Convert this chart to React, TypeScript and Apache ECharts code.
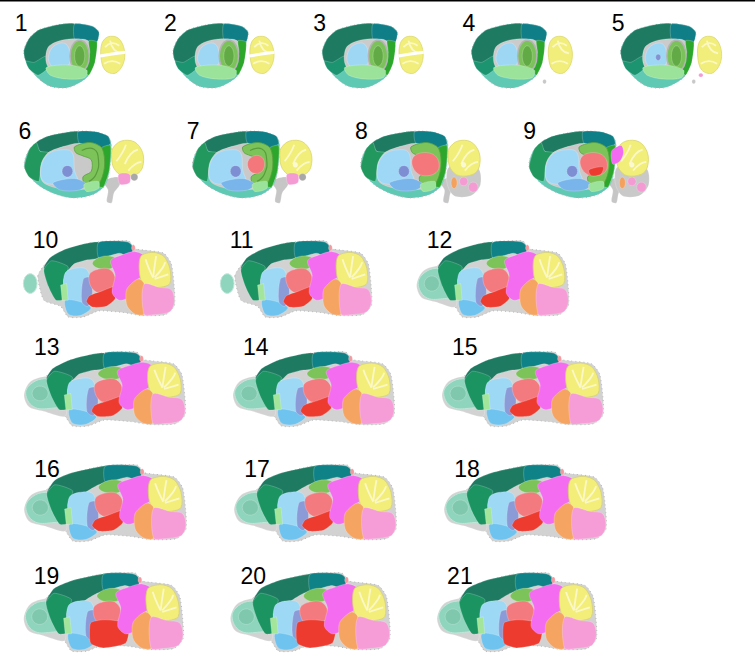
import React, { useEffect, useRef } from 'react';
import * as echarts from 'echarts';

// ------------------------------------------------------------
// Data: section numbers, how they are laid out in rows, and
// which atlas plate style (lateral -> medial) each one uses
// ------------------------------------------------------------
const sectionNumbers = [1, 2, 3, 4, 5, 6, 7, 8, 9, 10, 11, 12, 13, 14, 15, 16, 17, 18, 19, 20, 21];
const sectionsPerRow = [5, 4, 3, 3, 3, 3];
const sectionKind = [
  'lateral', 'lateral', 'lateral', 'lateral', 'lateral',
  'intermediate', 'intermediate', 'intermediate', 'intermediate',
  'medial', 'medial', 'medial', 'medial', 'medial', 'medial',
  'medial', 'medial', 'medial', 'medial', 'medial', 'medial',
];

// row placement (layout only)
const ROW_LAYOUT = [
  { top: 24, height: 64, left: -7, width: 753, labelDy: -12.5 },
  { top: 131, height: 72, left: -7, width: 680, labelDy: -11.5 },
  { top: 241, height: 76, left: -2, width: 593, labelDy: -12.5 },
  { top: 352, height: 74, left: 0, width: 627, labelDy: -17 },
  { top: 465, height: 76, left: 0, width: 630, labelDy: -7.5 },
  { top: 573, height: 78, left: -2, width: 622, labelDy: -8.5 },
];

// ------------------------------------------------------------
// Glyph templates (unit box: x 0..1 anterior->posterior, y 0..1 top->bottom)
// ------------------------------------------------------------
type Region = {
  fill?: string;
  pts: number[][];
  smooth?: number;
  stroke?: string;
  lw?: number;
  dash?: boolean;
  line?: boolean;
  min?: number;
  max?: number;
};

const ell = (cx: number, cy: number, rx: number, ry: number, n = 18) =>
  Array.from({ length: n }, (_, i) => {
    const a = (i / n) * Math.PI * 2;
    return [cx + rx * Math.cos(a), cy + ry * Math.sin(a)];
  });

const FOLIA = '#fbf8c8';

const LATERAL: Region[] = [
  { fill: '#5fc9b4', pts: [[0, 0.42], [0.05, 0.23], [0.15, 0.09], [0.34, 0.01], [0.52, 0], [0.68, 0.04], [0.74, 0.13], [0.72, 0.28], [0.69, 0.61], [0.63, 0.82], [0.52, 0.94], [0.41, 1.0], [0.25, 0.97], [0.11, 0.8], [0.025, 0.59]], smooth: 0.3, stroke: '#b8b8b8', lw: 1, dash: true },
  { fill: '#1e7b62', pts: [[0, 0.42], [0.05, 0.23], [0.15, 0.09], [0.34, 0.01], [0.5, 0], [0.5, 0.24], [0.38, 0.26], [0.28, 0.34], [0.22, 0.5], [0.1, 0.62], [0.02, 0.58]], smooth: 0.2 },
  { fill: '#1c9470', pts: [[0.02, 0.58], [0.1, 0.6], [0.22, 0.5], [0.24, 0.68], [0.14, 0.8], [0.05, 0.7]], smooth: 0.2 },
  { fill: '#0f7e86', pts: [[0.5, 0], [0.68, 0.04], [0.74, 0.13], [0.72, 0.28], [0.62, 0.26], [0.5, 0.24]], smooth: 0.2 },
  { fill: '#cbcbcb', pts: [[0.24, 0.36], [0.38, 0.25], [0.6, 0.24], [0.66, 0.32], [0.64, 0.7], [0.5, 0.78], [0.3, 0.78], [0.22, 0.6]], smooth: 0.3 },
  { fill: '#9ed7f4', pts: [[0.25, 0.46], [0.3, 0.34], [0.4, 0.3], [0.45, 0.42], [0.44, 0.64], [0.32, 0.7], [0.25, 0.6]], smooth: 0.4 },
  { fill: '#8193d3', pts: ell(0.37, 0.52, 0.025, 0.05), min: 5 },
  { fill: '#2ca72c', pts: [[0.64, 0.26], [0.72, 0.28], [0.7, 0.6], [0.64, 0.8], [0.6, 0.72], [0.65, 0.45]], smooth: 0.2 },
  { fill: '#7cc25a', pts: ell(0.55, 0.5, 0.095, 0.25), stroke: '#b4b4b4', lw: 1.5 },
  { fill: '#62aa45', pts: ell(0.55, 0.5, 0.05, 0.16) },
  { fill: '#9be39b', pts: [[0.22, 0.68], [0.44, 0.64], [0.62, 0.72], [0.6, 0.84], [0.42, 0.86], [0.26, 0.8]], smooth: 0.3 },
  { fill: '#f2ee7c', pts: [[0.77, 0.3], [0.83, 0.2], [0.93, 0.22], [0.99, 0.4], [0.98, 0.62], [0.9, 0.77], [0.8, 0.72], [0.76, 0.52]], smooth: 0.35, stroke: '#dcd86e', lw: 0.8 },
  { line: true, stroke: FOLIA, lw: 1.8, pts: [[0.8, 0.36], [0.87, 0.3], [0.94, 0.34]] },
  { line: true, stroke: FOLIA, lw: 1.8, pts: [[0.85, 0.26], [0.89, 0.4], [0.96, 0.46]] },
  { line: true, stroke: FOLIA, lw: 1.8, pts: [[0.79, 0.62], [0.87, 0.58], [0.95, 0.62]] },
  { line: true, stroke: '#ffffff', lw: 3, pts: [[0.75, 0.5], [0.87, 0.47], [1.0, 0.44]], max: 3 },
  { fill: '#c8c8c8', pts: ell(0.72, 0.9, 0.018, 0.035), min: 4 },
  { fill: '#f39bd4', pts: ell(0.79, 0.8, 0.022, 0.03), min: 5 },
];

const INTERMEDIATE: Region[] = [
  { fill: '#c6c6c6', pts: [[0.66, 0.7], [0.78, 0.64], [0.8, 0.74], [0.75, 0.86], [0.73, 1.0], [0.69, 0.98], [0.7, 0.82]], smooth: 0.3 },
  { fill: '#c9c9c9', pts: [[0.74, 0.5], [0.98, 0.52], [1.0, 0.75], [0.92, 0.9], [0.78, 0.9], [0.72, 0.72]], smooth: 0.3, min: 8 },
  { fill: '#5fc9b4', pts: [[0, 0.5], [0.04, 0.26], [0.16, 0.1], [0.35, 0.02], [0.5, 0], [0.64, 0.03], [0.72, 0.12], [0.72, 0.45], [0.68, 0.74], [0.58, 0.88], [0.42, 0.93], [0.25, 0.87], [0.1, 0.73]], smooth: 0.3, stroke: '#b8b8b8', lw: 1, dash: true },
  { fill: '#1e7b62', pts: [[0.1, 0.16], [0.2, 0.07], [0.35, 0.02], [0.45, 0.01], [0.46, 0.17], [0.32, 0.22], [0.2, 0.3], [0.13, 0.28]], smooth: 0.2 },
  { fill: '#22985f', pts: [[0, 0.5], [0.04, 0.26], [0.1, 0.16], [0.13, 0.28], [0.2, 0.3], [0.14, 0.48], [0.12, 0.7], [0.04, 0.64]], smooth: 0.2 },
  { fill: '#0f7f87', pts: [[0.45, 0.01], [0.6, 0.01], [0.7, 0.07], [0.72, 0.18], [0.64, 0.24], [0.46, 0.17]], smooth: 0.2 },
  { fill: '#c9c9c9', pts: [[0.14, 0.46], [0.2, 0.3], [0.32, 0.22], [0.46, 0.17], [0.64, 0.24], [0.7, 0.3], [0.68, 0.7], [0.56, 0.8], [0.3, 0.8], [0.15, 0.7]], smooth: 0.3 },
  { fill: '#9fd8f6', pts: [[0.14, 0.5], [0.2, 0.32], [0.32, 0.26], [0.4, 0.3], [0.42, 0.55], [0.44, 0.7], [0.3, 0.74], [0.16, 0.7]], smooth: 0.4 },
  { fill: '#2ca72c', pts: [[0.64, 0.24], [0.72, 0.2], [0.71, 0.55], [0.66, 0.78], [0.6, 0.75], [0.66, 0.5]], smooth: 0.2 },
  { fill: '#7cc35a', pts: [[0.42, 0.22], [0.55, 0.16], [0.65, 0.24], [0.67, 0.5], [0.62, 0.74], [0.52, 0.78], [0.49, 0.64], [0.56, 0.56], [0.56, 0.4], [0.48, 0.34], [0.43, 0.3]], smooth: 0.3, stroke: '#5b9f3c', lw: 0.8 },
  { line: true, stroke: '#5a9c3d', lw: 1.2, pts: [[0.48, 0.27], [0.58, 0.25], [0.62, 0.4], [0.6, 0.6], [0.54, 0.7]], max: 7 },
  { fill: '#7d8ed2', pts: ell(0.36, 0.56, 0.045, 0.08) },
  { fill: '#f3777b', pts: [[0.48, 0.38], [0.55, 0.34], [0.6, 0.42], [0.58, 0.56], [0.5, 0.58], [0.46, 0.48]], smooth: 0.4, min: 7, max: 7 },
  { fill: '#f3777b', pts: [[0.44, 0.36], [0.55, 0.3], [0.64, 0.38], [0.64, 0.56], [0.52, 0.62], [0.44, 0.52]], smooth: 0.4, min: 8 },
  { fill: '#ec3a30', pts: [[0.5, 0.54], [0.62, 0.5], [0.6, 0.6], [0.52, 0.62]], smooth: 0.3, min: 9 },
  { fill: '#79b4ea', pts: [[0.24, 0.72], [0.42, 0.66], [0.52, 0.74], [0.46, 0.82], [0.3, 0.82]], smooth: 0.3 },
  { fill: '#9be39b', pts: [[0.5, 0.74], [0.62, 0.7], [0.62, 0.8], [0.52, 0.84]], smooth: 0.3 },
  { fill: '#f5a15e', pts: ell(0.78, 0.72, 0.025, 0.08), min: 8 },
  { fill: '#f59bd4', pts: ell(0.86, 0.7, 0.035, 0.06), min: 8 },
  { fill: '#f59bd4', pts: ell(0.94, 0.78, 0.04, 0.07), min: 8 },
  { fill: '#f2ee7a', pts: [[0.74, 0.24], [0.81, 0.14], [0.92, 0.15], [0.99, 0.3], [0.99, 0.5], [0.94, 0.6], [0.82, 0.62], [0.75, 0.52], [0.73, 0.36]], smooth: 0.35, stroke: '#d9d56c', lw: 0.8 },
  { line: true, stroke: FOLIA, lw: 1.8, pts: [[0.77, 0.42], [0.82, 0.3], [0.85, 0.19]] },
  { line: true, stroke: FOLIA, lw: 1.8, pts: [[0.84, 0.46], [0.89, 0.32], [0.95, 0.26]] },
  { line: true, stroke: FOLIA, lw: 1.8, pts: [[0.87, 0.55], [0.93, 0.46], [0.98, 0.43]] },
  { fill: '#fbf9cf', pts: ell(0.86, 0.47, 0.02, 0.035), min: 7 },
  { fill: '#f59bd4', pts: [[0.79, 0.6], [0.88, 0.6], [0.88, 0.72], [0.8, 0.74]], smooth: 0.3, max: 7 },
  { fill: '#a8a8a8', pts: ell(0.92, 0.64, 0.03, 0.05), max: 7 },
  { fill: '#f36bf1', pts: [[0.69, 0.28], [0.77, 0.2], [0.79, 0.3], [0.76, 0.42], [0.7, 0.46]], smooth: 0.3, min: 9 },
];

const MEDIAL: Region[] = [
  { fill: '#d2d2d2', pts: [[0.1, 0.46], [0.15, 0.3], [0.22, 0.2], [0.33, 0.09], [0.5, 0.01], [0.7, 0], [0.74, 0.1], [0.8, 0.12], [0.93, 0.16], [0.98, 0.3], [1.0, 0.62], [1.0, 0.85], [0.94, 0.97], [0.78, 0.98], [0.66, 0.94], [0.5, 0.92], [0.4, 1.0], [0.3, 1.0], [0.25, 0.86], [0.14, 0.78]], smooth: 0.2, stroke: '#b8b8b8', lw: 1, dash: true },
  { fill: '#d2d2d2', pts: [[0, 0.58], [0.04, 0.4], [0.14, 0.33], [0.22, 0.4], [0.26, 0.86], [0.12, 0.8], [0.03, 0.74]], smooth: 0.3, min: 12 },
  { fill: '#8fd4bc', pts: [[0.01, 0.56], [0.05, 0.42], [0.13, 0.36], [0.21, 0.4], [0.27, 0.52], [0.27, 0.7], [0.17, 0.76], [0.06, 0.74]], smooth: 0.4, stroke: '#c0e7d9', lw: 1, min: 12 },
  { fill: '#7fc8ae', pts: ell(0.1, 0.56, 0.05, 0.1), min: 12 },
  { fill: '#8fd4bc', pts: ell(0.05, 0.56, 0.045, 0.13), stroke: '#c0e7d9', lw: 1, max: 11 },
  // cortex: thicker as sections approach the midline
  { fill: '#1e7b62', pts: [[0.14, 0.36], [0.18, 0.22], [0.28, 0.11], [0.4, 0.04], [0.5, 0.02], [0.5, 0.22], [0.42, 0.25], [0.34, 0.3], [0.3, 0.38], [0.22, 0.42]], smooth: 0.2, max: 15 },
  { fill: '#1e7b62', pts: [[0.14, 0.38], [0.19, 0.2], [0.3, 0.1], [0.45, 0.03], [0.56, 0.01], [0.56, 0.18], [0.46, 0.26], [0.38, 0.36], [0.32, 0.5], [0.22, 0.52]], smooth: 0.2, min: 16 },
  { fill: '#1b9461', pts: [[0.14, 0.38], [0.19, 0.26], [0.3, 0.34], [0.27, 0.52], [0.28, 0.76], [0.22, 0.78], [0.17, 0.6]], smooth: 0.2 },
  { fill: '#0f8287', pts: [[0.5, 0.02], [0.62, 0], [0.7, 0.02], [0.73, 0.1], [0.7, 0.2], [0.64, 0.16], [0.56, 0.2], [0.5, 0.22]], smooth: 0.25 },
  { fill: '#7cc35a', pts: [[0.46, 0.3], [0.5, 0.22], [0.58, 0.2], [0.63, 0.26], [0.61, 0.34], [0.52, 0.37]], smooth: 0.4 },
  { fill: '#9dd8f5', pts: [[0.28, 0.42], [0.34, 0.36], [0.42, 0.37], [0.45, 0.55], [0.42, 0.76], [0.44, 0.88], [0.3, 0.86], [0.27, 0.62]], smooth: 0.3 },
  { fill: '#6fc3ef', pts: [[0.28, 0.78], [0.38, 0.8], [0.45, 0.88], [0.38, 0.98], [0.3, 0.96]], smooth: 0.3 },
  { fill: '#8b9bd8', pts: [[0.4, 0.5], [0.44, 0.48], [0.46, 0.68], [0.43, 0.86], [0.39, 0.8]], smooth: 0.3 },
  { fill: '#a3e59a', pts: [[0.25, 0.58], [0.29, 0.56], [0.3, 0.78], [0.26, 0.78]] },
  { fill: '#f37b80', pts: [[0.44, 0.44], [0.5, 0.37], [0.57, 0.37], [0.61, 0.48], [0.59, 0.62], [0.5, 0.68], [0.45, 0.6]], smooth: 0.35 },
  { fill: '#ee3b30', pts: [[0.44, 0.72], [0.52, 0.66], [0.61, 0.6], [0.61, 0.76], [0.55, 0.86], [0.46, 0.87], [0.42, 0.8]], smooth: 0.2, max: 18 },
  { fill: '#ee3b30', pts: [[0.42, 0.64], [0.5, 0.6], [0.6, 0.62], [0.66, 0.72], [0.64, 0.9], [0.5, 0.96], [0.42, 0.9]], smooth: 0.2, min: 19 },
  { fill: '#f46cf0', pts: [[0.58, 0.26], [0.66, 0.18], [0.74, 0.14], [0.8, 0.2], [0.79, 0.45], [0.73, 0.55], [0.71, 0.72], [0.64, 0.78], [0.59, 0.68], [0.61, 0.45]], smooth: 0.3 },
  { fill: '#f3ee7a', pts: [[0.78, 0.2], [0.86, 0.15], [0.93, 0.2], [0.97, 0.36], [0.97, 0.56], [0.9, 0.61], [0.8, 0.58], [0.77, 0.42]], smooth: 0.3, stroke: '#d5d270', lw: 0.8 },
  { line: true, stroke: FOLIA, lw: 1.8, pts: [[0.86, 0.48], [0.83, 0.35], [0.81, 0.24]] },
  { line: true, stroke: FOLIA, lw: 1.8, pts: [[0.86, 0.48], [0.87, 0.33], [0.88, 0.2]] },
  { line: true, stroke: FOLIA, lw: 1.8, pts: [[0.87, 0.48], [0.92, 0.36], [0.94, 0.28]] },
  { line: true, stroke: FOLIA, lw: 1.8, pts: [[0.87, 0.5], [0.93, 0.46], [0.96, 0.44]] },
  { fill: '#f6a462', pts: [[0.69, 0.62], [0.76, 0.5], [0.8, 0.56], [0.8, 0.96], [0.74, 0.96], [0.69, 0.86], [0.68, 0.72]], smooth: 0.3 },
  { fill: '#f69cd6', pts: [[0.8, 0.57], [0.9, 0.61], [0.98, 0.64], [1.0, 0.8], [0.97, 0.93], [0.86, 0.97], [0.8, 0.96]], smooth: 0.3 },
  { fill: '#f29aa0', pts: ell(0.73, 0.09, 0.012, 0.04) },
];

const TEMPLATES: Record<string, { regions: Region[]; fill: number; labelDx: number }> = {
  lateral: { regions: LATERAL, fill: 0.68, labelDx: -9 },
  intermediate: { regions: INTERMEDIATE, fill: 0.71, labelDx: -6 },
  medial: { regions: MEDIAL, fill: 0.77, labelDx: 10 },
};

const App: React.FC = () => {
  const chartRef = useRef<HTMLDivElement>(null);

  useEffect(() => {
    document.body.style.margin = '0';
    if (!chartRef.current) return;
    const chart = echarts.init(chartRef.current, undefined, { renderer: 'svg' });

    // split sections into rows
    let start = 0;
    const rows = sectionsPerRow.map((n) => {
      const r = sectionNumbers.slice(start, start + n);
      start += n;
      return r;
    });

    const renderItem = (params: any, api: any) => {
      const idx = api.value(0);
      const num = api.value(1);
      const tpl = TEMPLATES[sectionKind[num - 1]];
      const [cx, top] = api.coord([idx, 0]);
      const bottom = api.coord([idx, 1])[1];
      const h = bottom - top;
      const w = api.size([1, 0])[0] * tpl.fill;
      const left = cx - w / 2;
      const map = (p: number[]) => [left + p[0] * w, top + p[1] * h];
      const children: any[] = tpl.regions
        .filter((r) => (r.min ?? 0) <= num && num <= (r.max ?? 99))
        .map((r) =>
          r.line
            ? {
                type: 'polyline',
                shape: { points: r.pts.map(map), smooth: 0.5 },
                style: { stroke: r.stroke, lineWidth: r.lw, fill: null },
                silent: true,
              }
            : {
                type: 'polygon',
                shape: { points: r.pts.map(map), smooth: r.smooth ?? 0 },
                style: {
                  fill: r.fill,
                  stroke: r.stroke ?? 'rgba(255,255,255,0.35)',
                  lineWidth: r.lw ?? 0.6,
                  lineDash: r.dash ? [1, 3] : null,
                },
                silent: true,
              }
        );
      const row = ROW_LAYOUT[params.seriesIndex];
      children.push({
        type: 'text',
        style: {
          text: String(num),
          x: left + tpl.labelDx,
          y: top + row.labelDy,
          fill: '#000',
          fontSize: 23,
          fontFamily: 'Liberation Sans, Arial, sans-serif',
          verticalAlign: 'top',
          align: 'left',
        },
      });
      return { type: 'group', children };
    };

    const option: any = {
      animation: false,
      backgroundColor: '#ffffff',
      graphic: [
        { type: 'rect', shape: { x: 0, y: 0, width: 755, height: 1.5 }, style: { fill: '#000' } },
      ],
      grid: ROW_LAYOUT.map((g) => ({ left: g.left, top: g.top, width: g.width, height: g.height })),
      xAxis: rows.map((r, i) => ({
        type: 'category',
        gridIndex: i,
        data: r.map(String),
        show: false,
      })),
      yAxis: rows.map((_, i) => ({
        type: 'value',
        gridIndex: i,
        min: 0,
        max: 1,
        inverse: true,
        show: false,
      })),
      series: rows.map((r, i) => ({
        type: 'custom',
        xAxisIndex: i,
        yAxisIndex: i,
        renderItem,
        data: r.map((num, j) => [j, num]),
      })),
    };

    chart.setOption(option);
    return () => chart.dispose();
  }, []);

  return <div ref={chartRef} style={{ width: 755, height: 660 }} />;
};

export default App;
